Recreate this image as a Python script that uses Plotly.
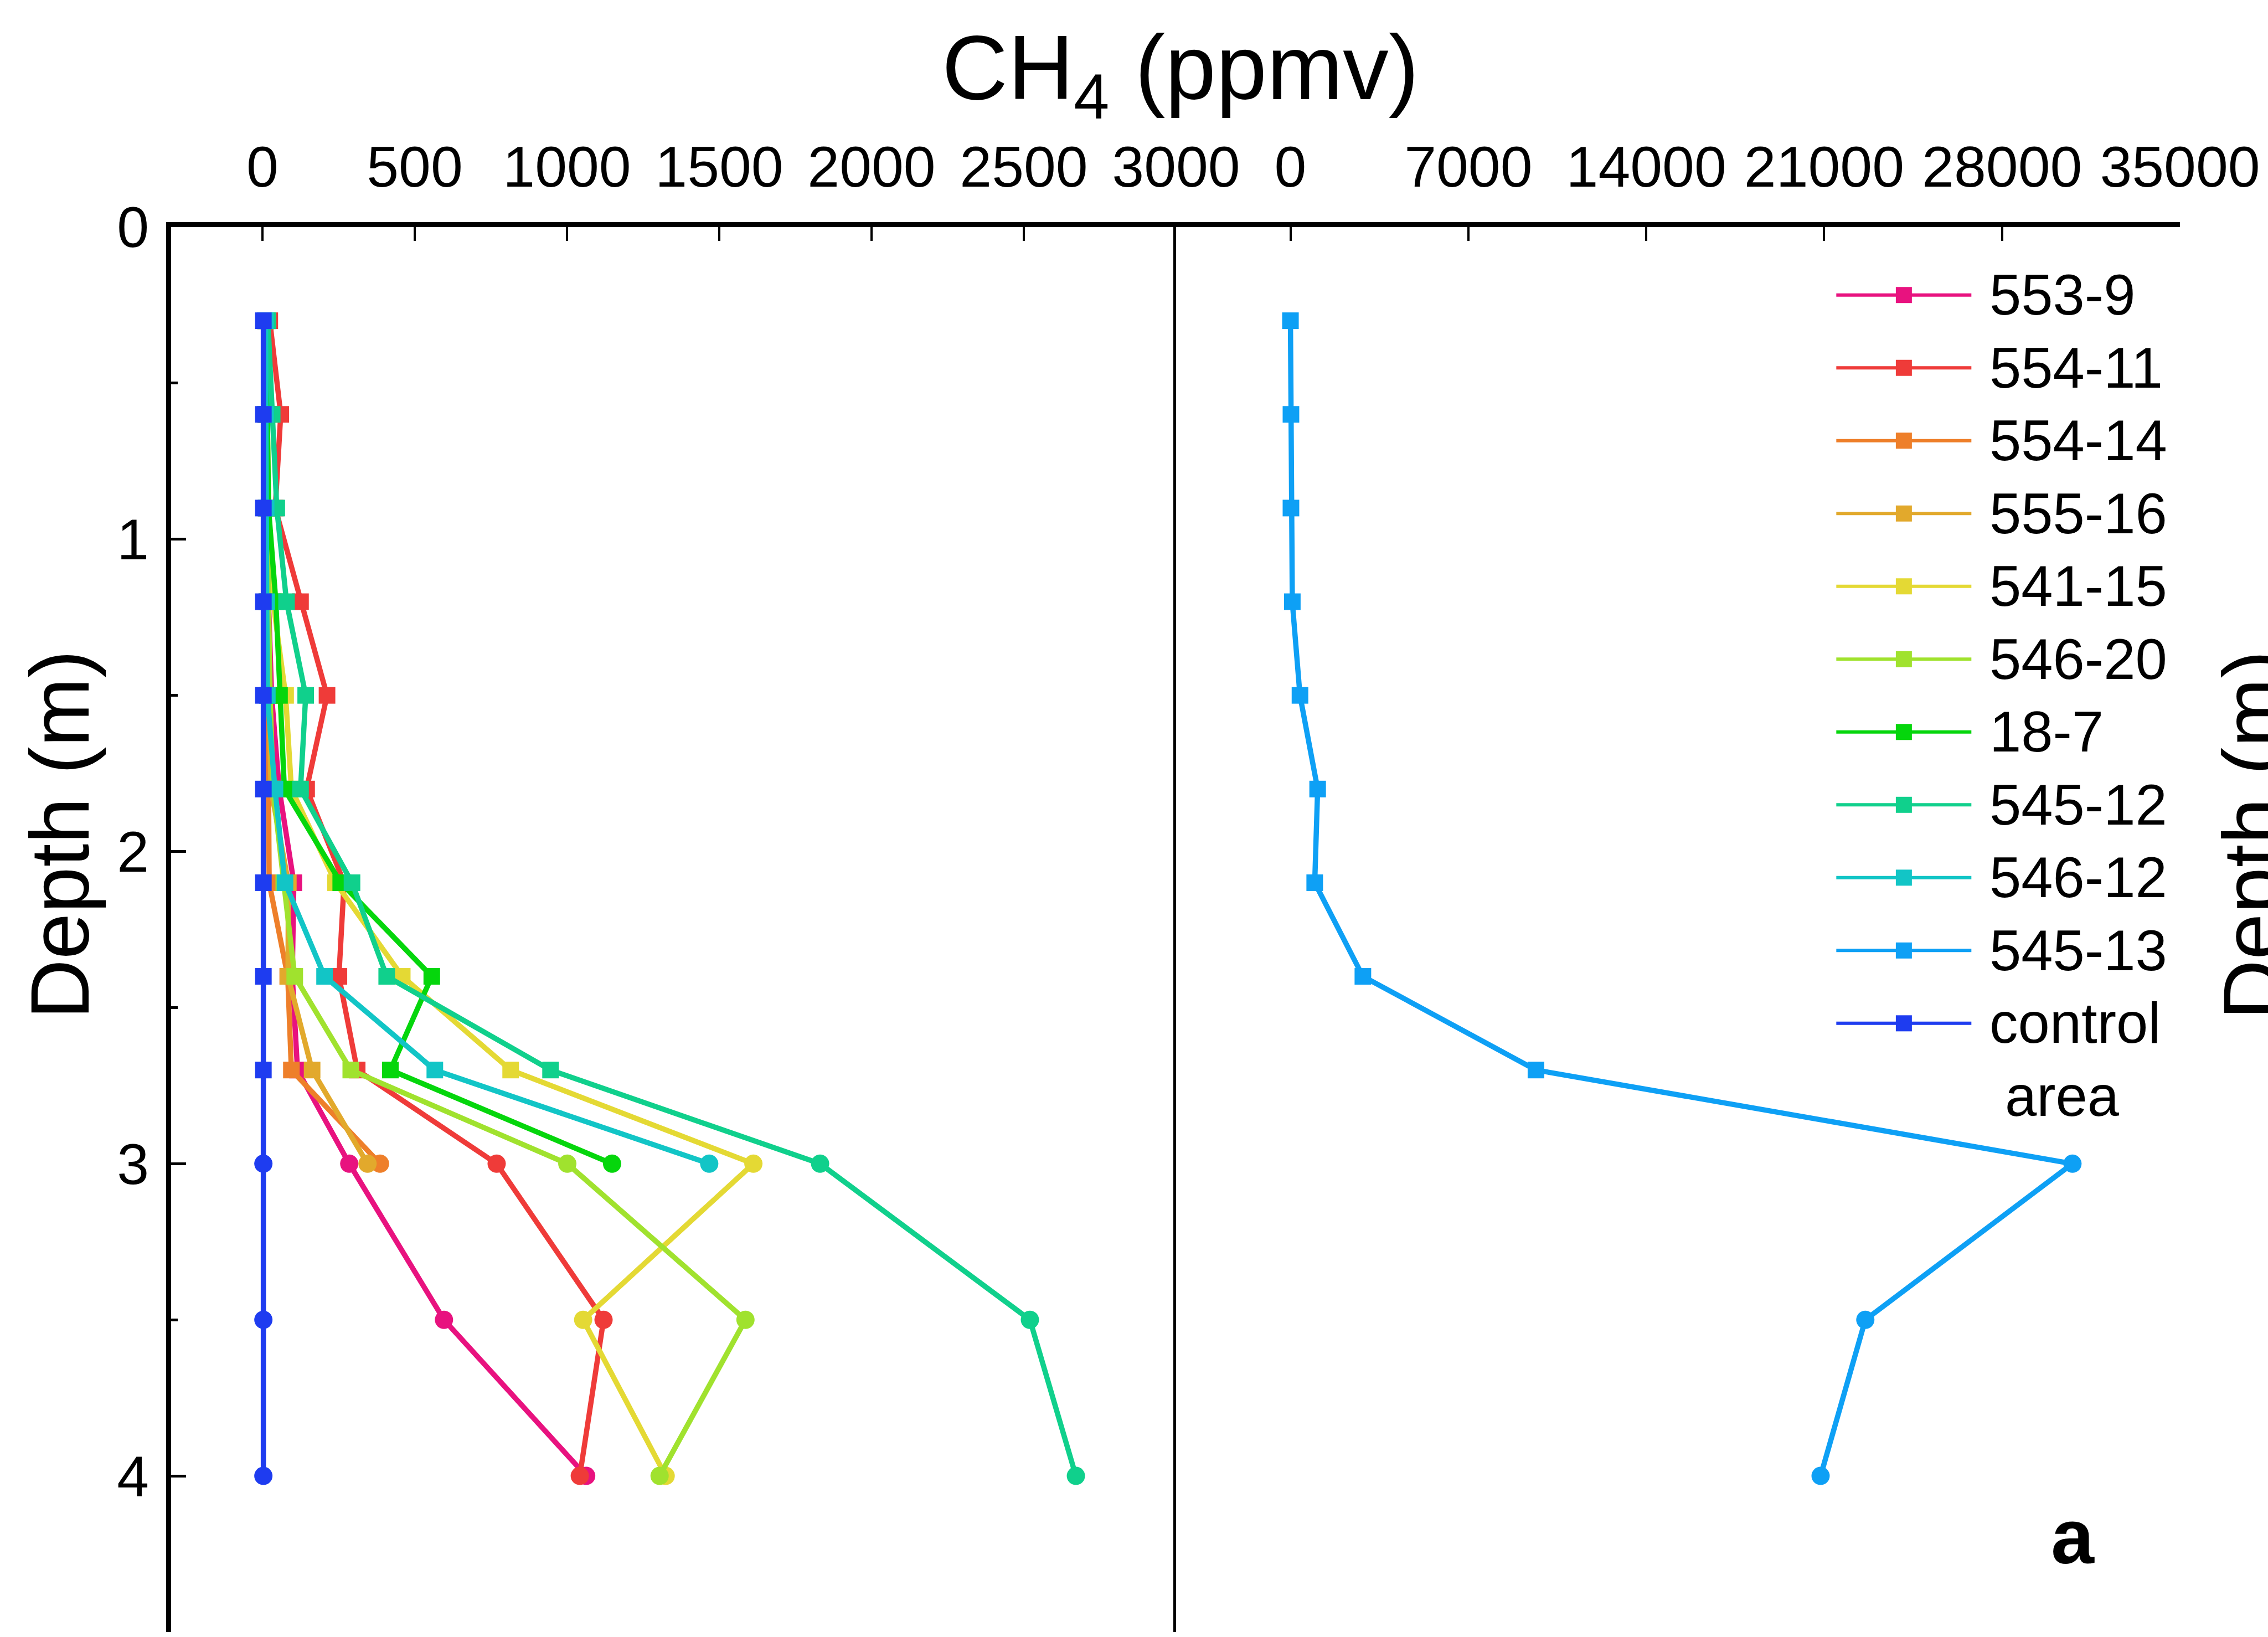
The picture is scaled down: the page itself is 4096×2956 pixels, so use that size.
import plotly.graph_objects as go

# Sampling depths (m) shared by every borehole profile
depth = [0.3, 0.6, 0.9, 1.2, 1.5, 1.8, 2.1, 2.4, 2.7, 3.0, 3.5, 4.0]

# CH4 concentration profiles (ppmv); shorter lists stop at 3.0 m
ch4_553_9 = [10, 12, 15, 20, 30, 55, 103, 98, 115, 285, 596, 1063]
ch4_554_11 = [24, 60, 42, 125, 212, 145, 268, 251, 311, 769, 1120, 1042]
ch4_554_14 = [10, 12, 12, 15, 18, 22, 22, 83, 95, 386]
ch4_555_16 = [10, 10, 12, 15, 20, 28, 85, 84, 163, 345]
ch4_541_15 = [12, 15, 20, 35, 76, 95, 240, 459, 815, 1612, 1053, 1324]
ch4_546_20 = [10, 12, 15, 20, 25, 35, 70, 106, 290, 1001, 1586, 1304]
ch4_18_7 = [12, 15, 20, 44, 56, 72, 257, 556, 420, 1148]
ch4_545_12 = [18, 32, 47, 79, 142, 125, 294, 408, 946, 1831, 2520, 2671]
ch4_546_12 = [10, 10, 12, 14, 16, 41, 74, 204, 566, 1467]
ch4_545_13 = [0, 20, 20, 73, 375, 1070, 955, 2850, 9660, 30770, 22620, 20860]
ch4_control = [3, 3, 3, 3, 3, 3, 3, 3, 3, 3, 3, 3]

series_names = ["553-9", "554-11", "554-14", "555-16", "541-15", "546-20",
                "18-7", "545-12", "546-12", "545-13", "control"]
series_values = [ch4_553_9, ch4_554_11, ch4_554_14, ch4_555_16, ch4_541_15,
                 ch4_546_20, ch4_18_7, ch4_545_12, ch4_546_12, ch4_545_13,
                 ch4_control]
series_colors = ["#E8127F", "#EF3B39", "#EE7F2A", "#E2A92C", "#E4D934",
                 "#A0E22E", "#05D60C", "#10D08C", "#12C5C6", "#0EA0F5",
                 "#1E3CF0"]
# the high-concentration profile gets its own panel
right_panel = {"545-13"}

left_ticks = [0, 500, 1000, 1500, 2000, 2500, 3000]
right_ticks = [0, 7000, 14000, 21000, 28000, 35000]
depth_ticks = [0, 1, 2, 3, 4]

FONT = "Liberation Sans, Arial, sans-serif"
W, H = 4096, 2956

fig = go.Figure()

for name, vals, color in zip(series_names, series_values, series_colors):
    d = depth[:len(vals)]
    symbols = ["square" if z < 3 else "circle" for z in d]
    sizes = [30 if z < 3 else 33 for z in d]
    on_right = name in right_panel
    fig.add_trace(go.Scatter(
        x=vals, y=d, mode="lines+markers", name=name,
        line=dict(color=color, width=9.5),
        marker=dict(symbol=symbols, size=sizes, color=color, opacity=1,
                    line=dict(width=0)),
        xaxis="x2" if on_right else "x", yaxis="y2" if on_right else "y",
        showlegend=False, cliponaxis=False,
    ))

# hand-built legend: long line with a square marker at its centre
for i, (name, color) in enumerate(zip(series_names, series_colors)):
    fig.add_trace(go.Scatter(
        x=[0, 0.5, 1], y=[i, i, i], mode="lines+markers",
        line=dict(color=color, width=6),
        marker=dict(symbol="square", size=[0, 29, 0], color=color, opacity=1,
                    line=dict(width=0)),
        xaxis="x3", yaxis="y3", showlegend=False, cliponaxis=False,
    ))

left_dom = [309 / W, 2124 / W]
right_dom = [2124 / W, 3937 / W]
y_dom = [1 - 2947 / H, 1 - 410 / H]

axis_font = dict(family=FONT, size=104, color="black")

fig.update_layout(
    template="none",
    width=W, height=H,
    margin=dict(l=0, r=0, t=0, b=0, pad=0, autoexpand=False),
    paper_bgcolor="white", plot_bgcolor="white",
    showlegend=False,
    xaxis=dict(
        domain=left_dom, anchor="y", side="top", range=[-300, 3000],
        tickmode="array", tickvals=left_ticks, ticktext=[str(v) for v in left_ticks],
        ticks="inside", ticklen=25, tickwidth=4, tickcolor="black",
        showline=True, linewidth=9, linecolor="black", automargin=False,
        showgrid=False, zeroline=False, tickfont=axis_font, ticklabelstandoff=22,
    ),
    yaxis=dict(
        domain=y_dom, anchor="x", range=[4.5, 0],
        tickmode="array", tickvals=depth_ticks, ticktext=[str(v) for v in depth_ticks],
        ticks="inside", ticklen=27, tickwidth=5, tickcolor="black",
        minor=dict(dtick=0.5, tick0=0, ticks="inside", ticklen=12, tickwidth=5,
                   tickcolor="black", showgrid=False),
        showline=True, linewidth=9, linecolor="black", automargin=False,
        showgrid=False, zeroline=False, tickfont=axis_font, ticklabelstandoff=10,
    ),
    xaxis2=dict(
        domain=right_dom, anchor="y2", side="top", range=[-4500, 35000],
        tickmode="array", tickvals=right_ticks, ticktext=[str(v) for v in right_ticks],
        ticks="inside", ticklen=25, tickwidth=4, tickcolor="black",
        showline=True, linewidth=9, linecolor="black", automargin=False,
        showgrid=False, zeroline=False, tickfont=axis_font, ticklabelstandoff=22,
    ),
    yaxis2=dict(
        domain=y_dom, anchor="x2", range=[4.5, 0],
        showline=True, linewidth=5, linecolor="black", automargin=False,
        ticks="", showticklabels=False, showgrid=False, zeroline=False,
    ),
    xaxis3=dict(domain=[4967 / 6135, 5333 / 6135], anchor="y3", range=[0, 1],
                visible=False, fixedrange=True, automargin=False),
    yaxis3=dict(domain=[1 - 2866.5 / 4428, 1 - 699.5 / 4428], anchor="x3",
                range=[10.5, -0.5], visible=False, fixedrange=True, automargin=False),
)

annotations = [
    dict(text="CH<sub>4</sub> (ppmv)", x=3193 / 6135, y=1 - 205 / 4428 + 0.001,
         xref="paper", yref="paper", xanchor="center", yanchor="middle",
         showarrow=False, font=dict(family=FONT, size=165, color="black")),
    dict(text="Depth (m)", x=162 / 6135, y=1 - 2258 / 4428, textangle=-90,
         xref="paper", yref="paper", xanchor="center", yanchor="middle",
         showarrow=False, font=dict(family=FONT, size=150, color="black")),
    dict(text="Depth (m)", x=6093 / 6135, y=1 - 2258 / 4428, textangle=-90,
         xref="paper", yref="paper", xanchor="center", yanchor="middle",
         showarrow=False, font=dict(family=FONT, size=150, color="black")),
    dict(text="<b>a</b>", x=5607 / 6135, y=1 - 4156 / 4428,
         xref="paper", yref="paper", xanchor="center", yanchor="middle",
         showarrow=False, font=dict(family=FONT, size=140, color="black")),
]
for i, name in enumerate(series_names):
    annotations.append(dict(
        text=name, x=5378 / 6135, y=1 - (798 + i * 197) / 4428,
        xref="paper", yref="paper", xanchor="left", yanchor="middle",
        showarrow=False, font=dict(family=FONT, size=103, color="black")))
annotations.append(dict(
    text="area", x=5420 / 6135, y=1 - (798 + 11 * 197) / 4428,
    xref="paper", yref="paper", xanchor="left", yanchor="middle",
    showarrow=False, font=dict(family=FONT, size=103, color="black")))
fig.update_layout(annotations=annotations)

fig.write_html("out.html")
